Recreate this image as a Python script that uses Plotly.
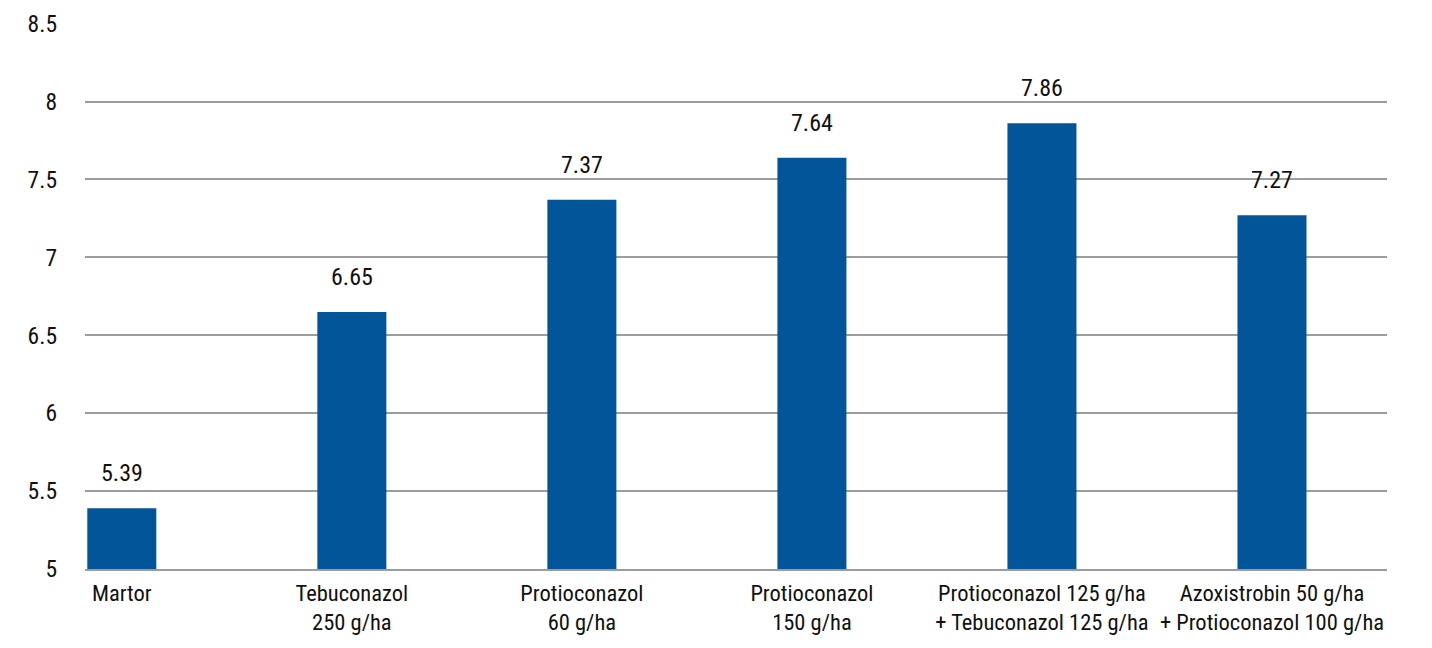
import plotly.graph_objects as go

# ---- data ----
treatments = [
    "Martor",
    "Tebuconazol<br>250 g/ha",
    "Protioconazol<br>60 g/ha",
    "Protioconazol<br>150 g/ha",
    "Protioconazol 125 g/ha<br>+ Tebuconazol 125 g/ha",
    "Azoxistrobin 50 g/ha<br>+ Protioconazol 100 g/ha",
]
yields = [5.39, 6.65, 7.37, 7.64, 7.86, 7.27]
y_ticks = [5, 5.5, 6, 6.5, 7, 7.5, 8, 8.5]
y_tick_text = ["5", "5.5", "6", "6.5", "7", "7.5", "8", "8.5"]

FONT = "Roboto Condensed, Liberation Sans Narrow, Roboto, sans-serif"
BAR_COLOR = "#03559A"
GRID = "#9c9c9c"
TXT = "#111111"

fig = go.Figure()
fig.add_trace(go.Bar(
    x=treatments,
    y=yields,
    width=0.30,
    marker=dict(color=BAR_COLOR, line=dict(width=0)),
    hovertemplate="%{x}<br>%{y}<extra></extra>",
))

# value labels above bars
for cat, val in zip(treatments, yields):
    fig.add_annotation(
        x=cat, y=val, text=f"{val:.2f}",
        showarrow=False, yanchor="bottom", yshift=19,
        font=dict(family=FONT, size=24, color=TXT),
    )

# page has an 8px body margin, so margins are shifted accordingly
fig.update_layout(
    width=1432, height=648,
    margin=dict(l=77, r=53, t=15, b=87),
    paper_bgcolor="white", plot_bgcolor="white",
    showlegend=False,
    font=dict(family=FONT, size=22.5, color=TXT),
)

fig.update_xaxes(
    type="category",
    range=[-0.16, 5.50],
    automargin=False,
    tickangle=0,
    showgrid=False,
    showline=True, linecolor=GRID, linewidth=1.5,
    ticks="", ticklabelstandoff=3,
    tickfont=dict(family=FONT, size=22.5, color=TXT),
)
fig.update_yaxes(
    range=[5, 8.504],
    automargin=False,
    tickvals=y_ticks, ticktext=y_tick_text,
    showgrid=True, gridcolor=GRID, gridwidth=1.5,
    zeroline=False, showline=False,
    ticks="", ticklabelstandoff=27,
    tickfont=dict(family=FONT, size=23.5, color=TXT),
)

fig.write_html("out.html")
